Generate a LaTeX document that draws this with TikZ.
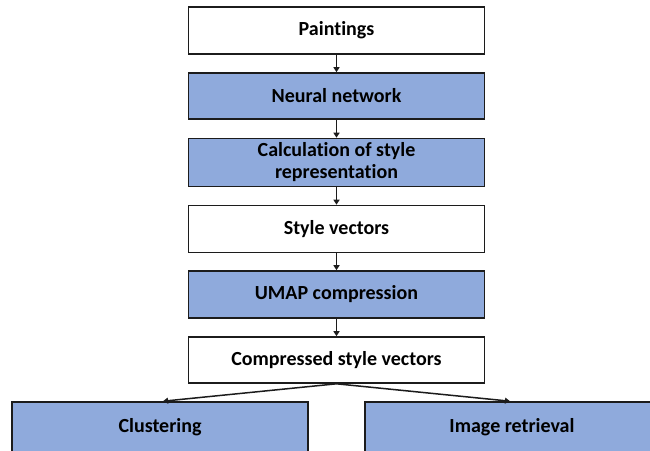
\documentclass[tikz,border=0pt]{standalone}
\usepackage{fontspec}
\setmainfont[Ligatures=NoCommon]{Carlito}
\usetikzlibrary{arrows.meta}
\definecolor{stepblue}{HTML}{8FAADC}
\definecolor{edgegrey}{HTML}{1C1C1C}
\begin{document}
\begin{tikzpicture}[x=1pt,y=-1pt,
  stagebox/.style={draw=edgegrey, line width=1.6pt, rectangle, minimum width=296pt,
    inner sep=0pt, align=center, font=\bfseries\fontsize{20}{22}\selectfont},
  bluebox/.style={stagebox, fill=stepblue},
  whitebox/.style={stagebox, fill=white},
  flow/.style={draw=edgegrey, line width=1.5pt, -{Triangle[width=6pt,length=5pt]}}]
  \useasboundingbox (0,0) rectangle (650,450);
  \clip (0,0) rectangle (650,450);
  \fill[white] (0,0) rectangle (650,450);

  \node[whitebox, minimum height=47pt] (paint) at (336.5,30.5) {Paintings};
  \node[bluebox, minimum height=46pt] (net) at (336.5,96) {Neural network};
  \node[bluebox, minimum height=48pt] (calc) at (336.5,162.5) {Calculation of style\\representation};
  \node[whitebox, minimum height=47pt] (vec) at (336.5,229) {Style vectors};
  \node[bluebox, minimum height=47pt] (umap) at (336.5,294.5) {UMAP compression};
  \node[whitebox, minimum height=46pt] (comp) at (336.5,360) {Compressed style vectors};
  \node[bluebox, minimum height=50pt] (clu) at (160,427) {Clustering};
  \node[bluebox, minimum height=50pt, minimum width=294pt] (ret) at (512,427) {Image retrieval};

  \draw[flow] (paint) -- (net);
  \draw[flow] (net) -- (calc);
  \draw[flow] (calc) -- (vec);
  \draw[flow] (vec) -- (umap);
  \draw[flow] (umap) -- (comp);
  \draw[flow] (comp.south) -- ([xshift=3pt]clu.north);
  \draw[flow] (comp.south) -- ([xshift=-2pt]ret.north);
\end{tikzpicture}
\end{document}
